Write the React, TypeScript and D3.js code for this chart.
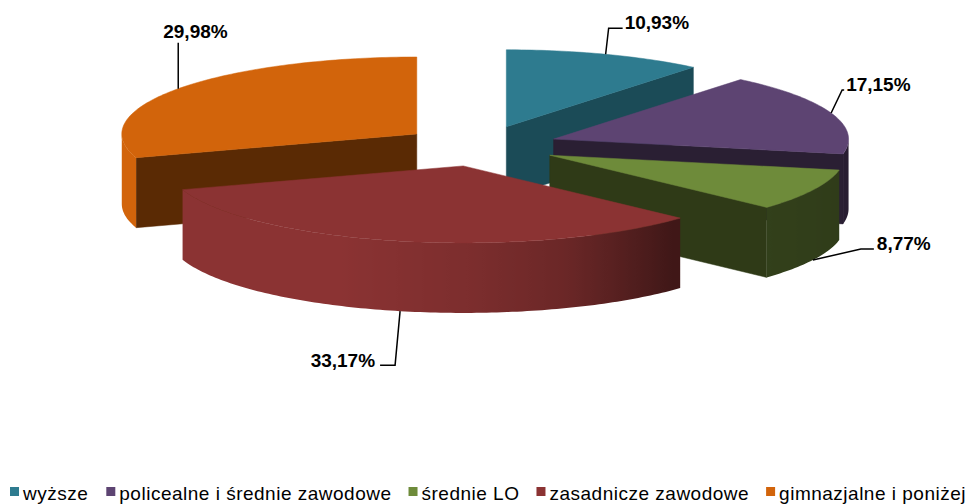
import React, { useEffect, useRef } from 'react';
import * as d3 from 'd3';

// education level shares (%)
const categories = [
  'wyższe',
  'policealne i średnie zawodowe',
  'średnie LO',
  'zasadnicze zawodowe',
  'gimnazjalne i poniżej'
];
const values = [10.93, 17.15, 8.77, 33.17, 29.98];
const topColors = ['#2E7B8F', '#5D4472', '#6E8B3A', '#8B3333', '#D2640B'];
const sideColors = ['#1B4B57', '#2A1F33', '#2F3A17', '#5A1E1E', '#5A2A04'];

// leader line / label placement relative to the rim anchor
const labelLayout = [
  { dx: 3, dy: -26, h: 14, tx: 2, ty: 1, anchor: 'start' },
  { dx: 11, dy: -23, h: 2, tx: 2, ty: 1, anchor: 'start' },
  { dx: 48, dy: -11, h: 13, tx: 3, ty: 1, anchor: 'start' },
  { dx: -5, dy: 54, h: -15, tx: -5, ty: 2, anchor: 'end' },
  { dx: 0, dy: -46, h: 0, tx: -15, ty: -5, anchor: 'start' }
];

const WIDTH = 967;
const HEIGHT = 504;
const FONT = 'Arial, "Liberation Sans", sans-serif';

// wall brightness by facing angle (degrees, 0 = back, 180 = front)
const wallShade = d3.scaleLinear<number>()
  .domain([90, 135, 160, 180, 205])
  .range([0.42, 0.46, 0.77, 0.9, 1])
  .clamp(true);

const shade = (color: string, f: number) => {
  const c = d3.rgb(color);
  return d3.rgb(c.r * f, c.g * f, c.b * f).formatHex();
};

const fmt = (v: number) => v.toFixed(2).replace('.', ',') + '%';

const App: React.FC = () => {
  const svgRef = useRef<SVGSVGElement>(null);

  useEffect(() => {
    if (!svgRef.current) return;
    const svg = d3.select(svgRef.current);
    svg.selectAll('*').remove();

    const cx = 480, cy = 146, rx = 295, ry = 77, depth = 70, explode = 0.265;

    const arcs = d3.pie<number>().sort(null).startAngle(0).endAngle(2 * Math.PI)(values);
    const slices = arcs.map((a, i) => {
      const mid = (a.startAngle + a.endAngle) / 2;
      return {
        i,
        a0: a.startAngle,
        a1: a.endAngle,
        mid,
        ox: cx + explode * rx * Math.sin(mid),
        oy: cy - explode * ry * Math.cos(mid)
      };
    });
    type Slice = typeof slices[number];

    const pt = (s: Slice, t: number, z = 0): [number, number] =>
      [s.ox + rx * Math.sin(t), s.oy - ry * Math.cos(t) + z];

    const sample = (t0: number, t1: number) => {
      const n = Math.max(2, Math.ceil((t1 - t0) / (Math.PI / 180)));
      return d3.range(n + 1).map(k => t0 + (t1 - t0) * k / n);
    };

    const line = d3.line();
    const defs = svg.append('defs');
    const pie = svg.append('g');

    // back to front
    const order = [...slices].sort((p, q) => p.oy - q.oy);
    order.forEach(s => {
      const g = pie.append('g');
      const c: [number, number] = [s.ox, s.oy];
      const cb: [number, number] = [s.ox, s.oy + depth];

      // cut faces
      [
        { t: s.a0, phi: s.a0 - Math.PI / 2 },
        { t: s.a1, phi: s.a1 + Math.PI / 2 }
      ].forEach(f => {
        if (Math.cos(f.phi) < -0.01) {
          g.append('path')
            .attr('d', line([c, pt(s, f.t), pt(s, f.t, depth), cb])! + 'Z')
            .attr('fill', sideColors[s.i])
            .attr('stroke', sideColors[s.i])
            .attr('stroke-width', 0.5);
        }
      });

      // outer wall (front half only)
      const w0 = Math.max(s.a0, Math.PI / 2);
      const w1 = Math.min(s.a1, 1.5 * Math.PI);
      if (w1 > w0) {
        const ts = sample(w0, w1);
        const topPts = ts.map(t => pt(s, t));
        const botPts = ts.slice().reverse().map(t => pt(s, t, depth));
        const xs = ts.map(t => s.ox + rx * Math.sin(t));
        const xmin = d3.min(xs)!, xmax = d3.max(xs)!;
        const gid = `wall-${s.i}`;
        const grad = defs.append('linearGradient')
          .attr('id', gid)
          .attr('gradientUnits', 'userSpaceOnUse')
          .attr('x1', xmin).attr('x2', xmax)
          .attr('y1', 0).attr('y2', 0);
        ts.map((t, k) => ({ off: (xs[k] - xmin) / Math.max(1, xmax - xmin), deg: t * 180 / Math.PI }))
          .sort((p, q) => p.off - q.off)
          .forEach(st => {
            grad.append('stop')
              .attr('offset', st.off)
              .attr('stop-color', shade(topColors[s.i], wallShade(st.deg)));
          });
        g.append('path')
          .attr('d', line([...topPts, ...botPts])! + 'Z')
          .attr('fill', `url(#${gid})`);
      }

      // top face
      const rim = sample(s.a0, s.a1).map(t => pt(s, t));
      g.append('path')
        .attr('d', line([c, ...rim])! + 'Z')
        .attr('fill', topColors[s.i])
        .attr('stroke', topColors[s.i])
        .attr('stroke-width', 0.5);
    });

    // data labels with leader lines
    const labels = svg.append('g');
    slices.forEach(s => {
      const lay = labelLayout[s.i];
      const front = Math.cos(s.mid) < 0;
      const a = pt(s, s.mid, front ? depth : 0);
      const e: [number, number] = [a[0] + lay.dx, a[1] + lay.dy];
      const end: [number, number] = [e[0] + lay.h, e[1]];
      labels.append('path')
        .attr('d', line([a, e, end])!)
        .attr('fill', 'none')
        .attr('stroke', '#000')
        .attr('stroke-width', 1.5);
      labels.append('text')
        .attr('x', end[0] + lay.tx)
        .attr('y', end[1] + lay.ty)
        .attr('text-anchor', lay.anchor)
        .attr('font-family', FONT)
        .attr('font-weight', 'bold')
        .attr('font-size', '19px')
        .attr('fill', '#000')
        .text(fmt(values[s.i]));
    });

    // legend
    const legend = svg.append('g');
    let x = 0;
    categories.forEach((name, i) => {
      legend.append('rect')
        .attr('x', x)
        .attr('y', -13)
        .attr('width', 9)
        .attr('height', 9)
        .attr('fill', topColors[i]);
      const t = legend.append('text')
        .attr('x', x + 13)
        .attr('y', 0)
        .attr('font-family', FONT)
        .attr('font-size', '19px')
        .attr('letter-spacing', '0.5px')
        .attr('fill', '#000')
        .text(name);
      const w = (t.node() as SVGTextElement).getBBox().width;
      x += 13 + w + 17;
    });
    const total = x - 17;
    legend.attr('transform', `translate(${488 - total / 2},500)`);
  }, []);

  return (
    <svg
      ref={svgRef}
      width={WIDTH}
      height={HEIGHT}
      style={{ position: 'absolute', left: 0, top: 0, display: 'block', background: '#fff' }}
    />
  );
};

export default App;
